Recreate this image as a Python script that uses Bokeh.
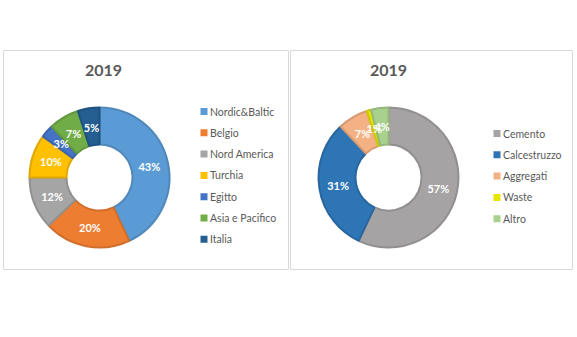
import numpy as np
from bokeh.plotting import figure
from bokeh.models import Range1d
from bokeh.core.properties import value
from bokeh.embed import file_html
from bokeh.resources import INLINE

# ---- data ----
title_left = "2019"
regions = ["Nordic&Baltic", "Belgio", "Nord America", "Turchia", "Egitto", "Asia e Pacifico", "Italia"]
region_pct = [43, 20, 12, 10, 3, 7, 5]
region_colors = ["#5B9BD5", "#ED7D31", "#A5A5A5", "#FFC000", "#4472C4", "#70AD47", "#255E91"]

title_right = "2019"
products = ["Cemento", "Calcestruzzo", "Aggregati", "Waste", "Altro"]
product_pct = [57, 31, 7, 1, 4]
product_colors = ["#A5A3A3", "#2E75B6", "#F4B183", "#E6E600", "#A9D18E"]

W, H = 577, 337
FONT = "Lato"
GREY = "#595959"


def Y(py):
    return H - py


def darker(c, f=0.88):
    r, g, b = int(c[1:3], 16), int(c[3:5], 16), int(c[5:7], 16)
    return "#%02x%02x%02x" % (int(r * f), int(g * f), int(b * f))


p = figure(width=W, height=H, x_range=Range1d(0, W), y_range=Range1d(0, H),
           output_backend="svg", toolbar_location=None, min_border=0,
           x_axis_location=None, y_axis_location=None)
p.grid.visible = False
p.outline_line_color = None
p.background_fill_color = "white"
p.border_fill_color = "white"

# panels
p.quad(left=[3, 290], right=[288, 572], top=[Y(50), Y(50)], bottom=[Y(269), Y(269)],
       fill_color=None, line_color="#D9D9D9", line_width=1)


def donut(cx, cy, vals, colors, title, names, leg_x, leg_y0, leg_dy, title_x):
    v = np.array(vals, dtype=float)
    frac = v / v.sum()
    cum = np.cumsum(frac)
    st = cum - frac
    start = np.pi / 2 - 2 * np.pi * cum
    end = np.pi / 2 - 2 * np.pi * st
    p.annular_wedge(x=cx, y=Y(cy), inner_radius=33, outer_radius=70,
                    start_angle=list(start), end_angle=list(end),
                    fill_color=colors, line_color=[darker(c) for c in colors], line_width=2)
    mid = (start + end) / 2
    r = 51
    p.text(x=list(cx + r * np.cos(mid)), y=list(Y(cy) + r * np.sin(mid)),
           text=[f"{int(x)}%" for x in vals], text_align="center", text_baseline="middle",
           text_color="white", text_font=value(FONT), text_font_style="bold",
           text_font_size="11px")
    p.text(x=[title_x], y=[Y(70)], text=[title], text_align="center", text_baseline="middle",
           text_color=GREY, text_font=value(FONT), text_font_style="bold", text_font_size="16px")
    ys = [Y(leg_y0 + i * leg_dy) for i in range(len(names))]
    p.rect(x=[leg_x] * len(names), y=ys, width=7, height=7, fill_color=colors, line_color=None)
    p.text(x=[leg_x + 6] * len(names), y=ys, text=names, text_align="left", text_baseline="middle",
           text_color=GREY, text_font=value(FONT), text_font_size="10.5px")


donut(99, 177, region_pct, region_colors, title_left, regions, 203.5, 111, 21.3, 103)
donut(388, 177, product_pct, product_colors, title_right, products, 496.5, 133, 21.3, 388)

open("out.html", "w").write(file_html(p, INLINE))
